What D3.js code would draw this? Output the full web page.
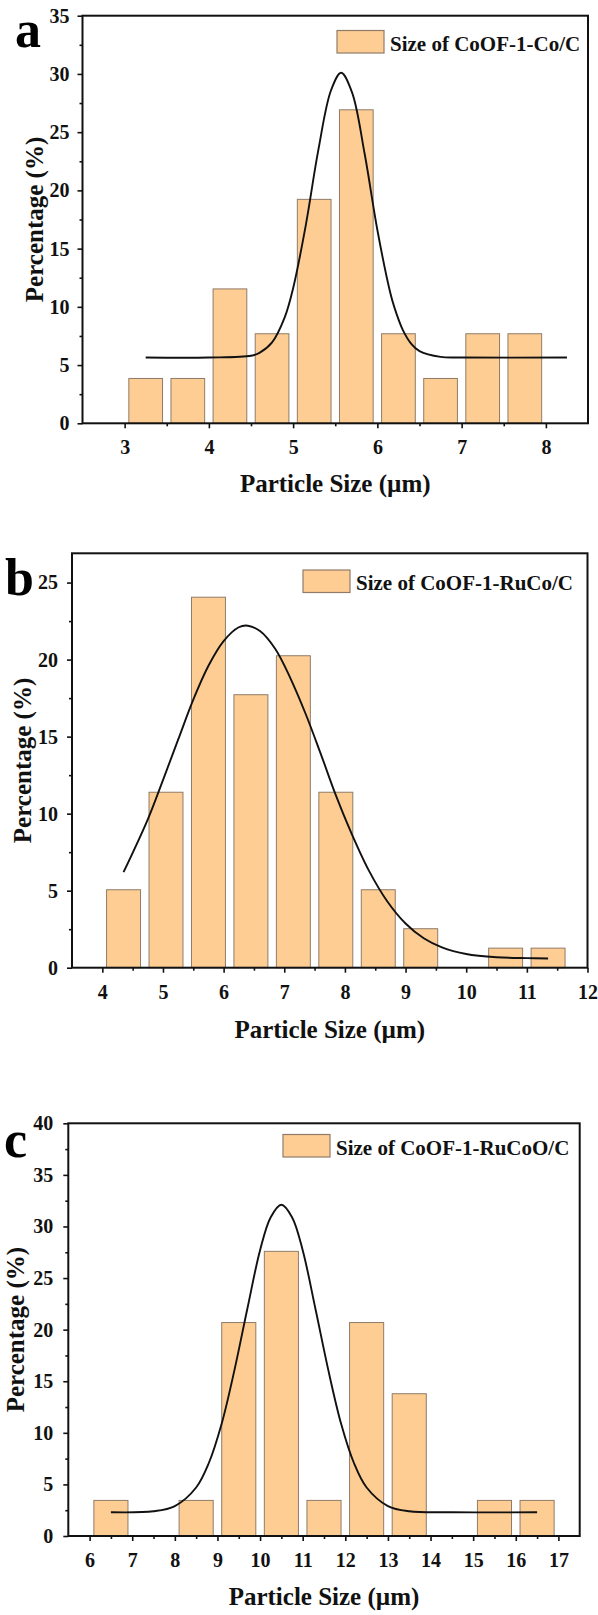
<!DOCTYPE html>
<html>
<head>
<meta charset="utf-8">
<script src="https://cdn.jsdelivr.net/npm/d3@7"></script>
<style>
body{margin:0;background:#fff}
</style>
</head>
<body>
<svg id="fig" width="598" height="1615" font-family="'Liberation Serif', 'Times New Roman', serif" font-weight="bold"></svg>
<script>
/* particle size histograms, 3 panels */

// panel a - CoOF-1-Co/C
var aBinStart = [3.0, 3.5, 4.0, 4.5, 5.0, 5.5, 6.0, 6.5, 7.0, 7.5]
var aPct = [3.85, 3.85, 11.54, 7.69, 19.23, 26.92, 7.69, 3.85, 7.69, 7.69]
var aFitX = [3.25, 4.0, 4.5, 4.6, 4.75, 4.9, 5.0, 5.15, 5.3, 5.45, 5.57, 5.7, 5.85, 6.0, 6.15, 6.2, 6.3, 6.4, 6.5, 6.75, 7.0, 8.25]
var aFitY = [5.65, 5.65, 5.8, 6.05, 6.95, 9.1, 11.6, 17.0, 23.5, 28.6, 30.1, 28.4, 23.1, 16.6, 11.3, 10.0, 8.05, 6.85, 6.2, 5.7, 5.65, 5.65]
var aXTicks = [3, 4, 5, 6, 7, 8]
var aYTicks = [0, 5, 10, 15, 20, 25, 30, 35]

// panel b - CoOF-1-RuCo/C
var bBinStart = [4.0, 4.7, 5.4, 6.1, 6.8, 7.5, 8.2, 8.9, 9.6, 10.3, 11.0]
var bPct = [5.06, 11.39, 24.05, 17.72, 20.25, 11.39, 5.06, 2.53, 0, 1.27, 1.27]
var bFitX = [4.35, 4.75, 5.0, 5.25, 5.5, 5.75, 6.0, 6.25, 6.4, 6.6, 6.85, 7.1, 7.35, 7.6, 7.85, 8.1, 8.4, 8.7, 9.0, 9.3, 9.6, 10.0, 10.5, 11.0, 11.35]
var bFitY = [6.2, 9.63, 12.18, 14.8, 17.4, 19.6, 21.2, 22.1, 22.2, 21.85, 20.7, 18.8, 16.5, 13.9, 11.2, 8.8, 6.27, 4.3, 2.87, 1.91, 1.32, 0.89, 0.68, 0.62, 0.6]
var bXTicks = [4, 5, 6, 7, 8, 9, 10, 11, 12]
var bYTicks = [0, 5, 10, 15, 20, 25]

// panel c - CoOF-1-RuCoO/C
var cBinStart = [6, 7, 8, 9, 10, 11, 12, 13, 14, 15, 16]
var cPct = [3.45, 0, 3.45, 20.69, 27.59, 3.45, 20.69, 13.79, 0, 3.45, 3.45]
var cFitX = [6.5, 7.5, 8.0, 8.5, 8.8, 9.1, 9.4, 9.7, 10.0, 10.25, 10.5, 10.75, 11.0, 11.3, 11.6, 11.9, 12.2, 12.5, 13.0, 13.5, 14.5, 16.5]
var cFitY = [2.3, 2.4, 2.9, 4.7, 7.1, 10.9, 16.1, 22.0, 27.7, 30.9, 32.1, 30.9, 27.7, 22.0, 16.1, 10.9, 7.1, 4.7, 2.9, 2.4, 2.3, 2.3]
var cXTicks = [6, 7, 8, 9, 10, 11, 12, 13, 14, 15, 16, 17]
var cYTicks = [0, 5, 10, 15, 20, 25, 30, 35, 40]

var svg = d3.select('#fig')
var barFill = '#fecd94'
var barEdge = '#8f7c68'
var serif = "'Liberation Serif', 'Times New Roman', serif"

drawPanel = function(p){
    var x = d3.scaleLinear().domain(p.xDomain).range([p.left, p.right])
    var y = d3.scaleLinear().domain(p.yDomain).range([p.bottom, p.top])
    var g = svg.append('g')

    // bars
    var binW = p.bins[1] - p.bins[0]
    var barW = binW * p.barRatio
    var rows = p.bins.map(function(b, i){ return {x0: b, v: p.pct[i]} }).filter(function(d){ return d.v > 0 })
    g.selectAll('rect.bar').data(rows).enter().append('rect')
        .attr('class', 'bar')
        .attr('x', function(d){ return x(d.x0 + (binW - barW) / 2) })
        .attr('width', function(d){ return x(d.x0 + barW) - x(d.x0) })
        .attr('y', function(d){ return y(d.v) })
        .attr('height', function(d){ return y(0) - y(d.v) })
        .attr('fill', barFill)
        .attr('stroke', barEdge)
        .attr('stroke-width', 1)

    // fit line
    var pts = p.fitX.map(function(v, i){ return [v, p.fitY[i]] })
    var line = d3.line().x(function(d){ return x(d[0]) }).y(function(d){ return y(d[1]) }).curve(d3.curveCatmullRom)
    g.append('path').datum(pts)
        .attr('d', line)
        .attr('fill', 'none')
        .attr('stroke', '#111')
        .attr('stroke-width', 1.9)

    // minor ticks
    var xMinor = p.xTicks.slice(0, -1).map(function(t){ return t + 0.5 }).concat([p.xTicks[0] - 0.5])
        .filter(function(t){ return t > p.xDomain[0] && t < p.xDomain[1] })
    var yMinor = p.yTicks.slice(0, -1).map(function(t){ return t + 2.5 })
    g.append('g').attr('transform', 'translate(0,' + p.bottom + ')')
        .call(d3.axisBottom(x).tickValues(xMinor).tickSize(3).tickSizeOuter(0).tickFormat(''))
        .call(function(a){ a.select('.domain').remove() })
    g.append('g').attr('transform', 'translate(' + p.left + ',0)')
        .call(d3.axisLeft(y).tickValues(yMinor).tickSize(3).tickSizeOuter(0).tickFormat(''))
        .call(function(a){ a.select('.domain').remove() })

    // major ticks
    var xa = g.append('g').attr('transform', 'translate(0,' + p.bottom + ')')
        .call(d3.axisBottom(x).tickValues(p.xTicks).tickSize(5).tickSizeOuter(0).tickPadding(12).tickFormat(d3.format('d')))
    var ya = g.append('g').attr('transform', 'translate(' + p.left + ',0)')
        .call(d3.axisLeft(y).tickValues(p.yTicks).tickSize(5).tickSizeOuter(0).tickPadding(p.yPad).tickFormat(d3.format('d')))
    ;[xa, ya].forEach(function(a){
        a.select('.domain').remove()
        a.attr('font-family', serif).attr('font-weight', 'bold').attr('font-size', 20)
        a.selectAll('text').attr('fill', '#111')
    })
    g.selectAll('.tick line').attr('stroke', '#111').attr('stroke-width', 1.6)

    // frame
    g.append('rect')
        .attr('x', p.left).attr('y', p.top)
        .attr('width', p.right - p.left).attr('height', p.bottom - p.top)
        .attr('fill', 'none').attr('stroke', '#111').attr('stroke-width', 2)

    // titles
    g.append('text').text('Particle Size (µm)')
        .attr('x', (p.left + p.right) / 2).attr('y', p.xTitleY)
        .attr('text-anchor', 'middle').attr('font-size', 25).attr('fill', '#111')
    g.append('text').text('Percentage (%)')
        .attr('transform', 'translate(' + p.yTitleX + ',' + (p.top + p.bottom) / 2 + ') rotate(-90)')
        .attr('text-anchor', 'middle').attr('font-size', 25).attr('fill', '#111')

    // legend
    g.append('rect')
        .attr('x', p.legX).attr('y', p.legY).attr('width', 47).attr('height', 22.5)
        .attr('fill', barFill).attr('stroke', barEdge).attr('stroke-width', 1.2)
    g.append('text').text(p.name)
        .attr('x', p.legX + 53).attr('y', p.legY + 20)
        .attr('font-size', 21).attr('fill', '#111')

    // panel letter
    g.append('text').text(p.letter)
        .attr('x', p.letterX).attr('y', p.letterY)
        .attr('font-size', 52).attr('fill', '#000')
}

drawPanel({letter: 'a', name: 'Size of CoOF-1-Co/C',
    bins: aBinStart, pct: aPct, fitX: aFitX, fitY: aFitY, xTicks: aXTicks, yTicks: aYTicks,
    xDomain: [2.5, 8.5], yDomain: [0, 35], barRatio: 0.8,
    left: 82.5, right: 588, top: 15.7, bottom: 423.3, yPad: 8,
    xTitleY: 492, yTitleX: 43, legX: 337, legY: 30.5, letterX: 15, letterY: 47})

drawPanel({letter: 'b', name: 'Size of CoOF-1-RuCo/C',
    bins: bBinStart, pct: bPct, fitX: bFitX, fitY: bFitY, xTicks: bXTicks, yTicks: bYTicks,
    xDomain: [3.5, 12], yDomain: [0, 26.9], barRatio: 0.8,
    left: 72, right: 587.5, top: 553.3, bottom: 967.7, yPad: 9,
    xTitleY: 1038, yTitleX: 31, legX: 303, legY: 570, letterX: 5, letterY: 595})

drawPanel({letter: 'c', name: 'Size of CoOF-1-RuCoO/C',
    bins: cBinStart, pct: cPct, fitX: cFitX, fitY: cFitY, xTicks: cXTicks, yTicks: cYTicks,
    xDomain: [5.5, 17.5], yDomain: [0, 40], barRatio: 0.8,
    left: 68.3, right: 579.7, top: 1123.3, bottom: 1536, yPad: 10,
    xTitleY: 1605, yTitleX: 24, legX: 283, legY: 1134.5, letterX: 4, letterY: 1157})
</script>
</body>
</html>
